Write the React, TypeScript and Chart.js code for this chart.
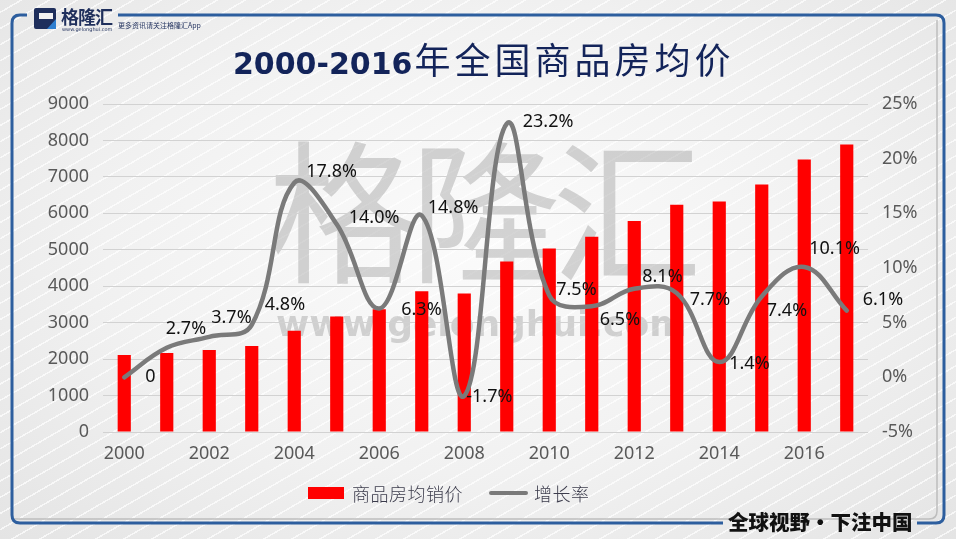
import React, { useEffect, useRef } from "react";
import { Chart, registerables } from "chart.js";

Chart.register(...registerables);

// ---- data ----
const years = [
  "2000", "2001", "2002", "2003", "2004", "2005", "2006", "2007", "2008",
  "2009", "2010", "2011", "2012", "2013", "2014", "2015", "2016", "2017",
];
const avgPrice = [
  2112, 2170, 2250, 2359, 2778, 3168, 3367, 3864, 3800,
  4681, 5032, 5357, 5791, 6237, 6324, 6793, 7476, 7892,
];
const growthRate = [
  0, 2.7, 3.7, 4.8, 17.8, 14.0, 6.3, 14.8, -1.7,
  23.2, 7.5, 6.5, 8.1, 7.7, 1.4, 7.4, 10.1, 6.1,
];
const growthLabels = growthRate.map((v) => (v === 0 ? "0" : v.toFixed(1) + "%"));
// label placement relative to each point (left edge dx, center dy)
const labelDx = [21, -1, 2, 13, 12, 12, 22, 6, 2, 16, 7, 8, 8, 13, 10, 5, 5, 16];
const labelDy = [0, -19, -19, -20, -11, -6, 1, -8, 1, -2, -5, 14, -12, 7, 2, 14, -18, -11];

const leftMin = 0;
const leftMax = 9000;
const leftStep = 1000;
const rightMin = -5;
const rightMax = 25;
const rightStep = 5;

const seriesNames = ["商品房均销价", "增长率"];
const titleNum = "2000-2016";
const titleText = "年全国商品房均价";

const TICK_FONT = { family: '"Noto Sans", "Open Sans", sans-serif', size: 18 };
const TICK_COLOR = "#595959";

export default function App() {
  const canvasRef = useRef<HTMLCanvasElement | null>(null);

  useEffect(() => {
    const canvas = canvasRef.current;
    if (!canvas) return;

    const labelPlugin = {
      id: "growthLabels",
      afterDatasetsDraw(chart: any) {
        const meta = chart.getDatasetMeta(1);
        const ctx = chart.ctx;
        ctx.save();
        ctx.font = '18px "Noto Sans", "Open Sans", sans-serif';
        ctx.fillStyle = "#111111";
        ctx.textAlign = "left";
        ctx.textBaseline = "middle";
        meta.data.forEach((pt: any, i: number) => {
          ctx.fillText(growthLabels[i], pt.x + labelDx[i], pt.y + labelDy[i]);
        });
        ctx.restore();
      },
    };

    const chart = new Chart(canvas, {
      type: "bar",
      data: {
        labels: years,
        datasets: [
          {
            type: "bar",
            label: seriesNames[0],
            data: avgPrice,
            backgroundColor: "#ff0000",
            yAxisID: "y",
            barPercentage: 0.31,
            categoryPercentage: 1,
            order: 2,
          },
          {
            type: "line",
            label: seriesNames[1],
            data: growthRate,
            borderColor: "#7a7a7a",
            borderWidth: 4.5,
            pointRadius: 0,
            tension: 0.4,
            yAxisID: "y1",
            borderCapStyle: "round",
            order: 1,
          } as any,
        ],
      },
      options: {
        responsive: false,
        animation: false,
        layout: { padding: { top: 104, bottom: 0, left: 0, right: 0 } },
        plugins: {
          legend: { display: false },
          tooltip: { enabled: false },
          title: { display: false },
        },
        scales: {
          x: {
            grid: { display: false, drawTicks: false },
            border: { display: false },
            ticks: {
              autoSkip: false,
              maxRotation: 0,
              padding: 11,
              color: TICK_COLOR,
              font: TICK_FONT,
              callback: (_v: any, i: number) => (i % 2 === 0 ? years[i] : ""),
            },
            afterFit: (s: any) => {
              s.height = 107;
            },
          },
          y: {
            position: "left",
            min: leftMin,
            max: leftMax,
            ticks: {
              stepSize: leftStep,
              padding: 14,
              color: TICK_COLOR,
              font: TICK_FONT,
              callback: (v: any) => String(v),
            },
            grid: { color: "#d2d2d2", lineWidth: 1, drawTicks: false },
            border: { display: false },
            afterFit: (s: any) => {
              s.width = 103;
            },
          },
          y1: {
            position: "right",
            min: rightMin,
            max: rightMax,
            ticks: {
              stepSize: rightStep,
              padding: 14,
              color: TICK_COLOR,
              font: TICK_FONT,
              callback: (v: any) => v + "%",
            },
            grid: { display: false, drawTicks: false },
            border: { display: false },
            afterFit: (s: any) => {
              s.width = 88;
            },
          },
        },
      } as any,
      plugins: [labelPlugin],
    });

    return () => chart.destroy();
  }, []);

  const cjk = '"Noto Sans CJK SC", "Noto Sans", sans-serif';

  return (
    <div
      style={{
        position: "fixed",
        left: 0,
        top: 0,
        width: 956,
        height: 539,
        overflow: "hidden",
        background:
          "radial-gradient(ellipse at 50% 45%, #fbfbfb 0%, #f1f1f1 55%, #e4e4e4 100%)",
      }}
    >
      {/* diagonal stripes */}
      <div
        style={{
          position: "absolute",
          inset: 0,
          background:
            "repeating-linear-gradient(150deg, rgba(255,255,255,0) 0px, rgba(255,255,255,0) 10px, rgba(255,255,255,0.7) 10px, rgba(255,255,255,0.7) 11.5px, rgba(255,255,255,0) 11.5px, rgba(255,255,255,0) 14px)",
        }}
      />
      {/* watermark */}
      <div
        style={{
          position: "absolute",
          left: 268,
          top: 118,
          fontFamily: cjk,
          fontWeight: 400,
          fontSize: 150,
          lineHeight: "170px",
          letterSpacing: -8,
          color: "rgba(120,120,120,0.3)",
          whiteSpace: "nowrap",
          transform: "scaleY(1.02)",
          transformOrigin: "top left",
        }}
      >
        格隆汇
      </div>
      <div
        style={{
          position: "absolute",
          left: 276,
          top: 302,
          fontFamily: '"DejaVu Sans", sans-serif',
          fontWeight: 700,
          fontSize: 36,
          lineHeight: "44px",
          color: "rgba(120,120,120,0.3)",
          whiteSpace: "nowrap",
        }}
      >
        www.gelonghui.com
      </div>

      <canvas
        ref={canvasRef}
        width={956}
        height={539}
        style={{ position: "absolute", left: 0, top: 0, width: 956, height: 539 }}
      />

      {/* frame */}
      <svg
        width={956}
        height={539}
        style={{ position: "absolute", left: 0, top: 0, pointerEvents: "none" }}
      >
        <path
          d="M 12 519 H 929 Q 937 519 937 511 V 20"
          fill="none"
          stroke="#bdbdbd"
          strokeWidth={1.5}
        />
        <path
          d="M 27 15 H 20 Q 12 15 12 23 V 515 Q 12 523 20 523 H 723 M 917 523 H 936 Q 944 523 944 515 V 23 Q 944 15 936 15 H 118"
          fill="none"
          stroke="#2d5e9e"
          strokeWidth={3}
        />
      </svg>

      {/* logo */}
      <div
        style={{
          position: "absolute",
          left: 34,
          top: 8,
          width: 22,
          height: 21,
          background: "#1f2f5c",
          borderRadius: 2,
        }}
      >
        <div
          style={{
            position: "absolute",
            left: 5,
            top: 5,
            width: 14,
            height: 6,
            background: "#f2f2f2",
          }}
        />
        <div
          style={{
            position: "absolute",
            right: 0,
            bottom: 0,
            width: 0,
            height: 0,
            borderLeft: "9px solid transparent",
            borderBottom: "10px solid #2f7fd0",
          }}
        />
      </div>
      <div
        style={{
          position: "absolute",
          left: 61,
          top: 4,
          fontFamily: cjk,
          fontWeight: 700,
          fontSize: 18,
          lineHeight: "24px",
          letterSpacing: -1,
          color: "#1f2f5c",
          whiteSpace: "nowrap",
        }}
      >
        格隆汇
      </div>
      <div
        style={{
          position: "absolute",
          left: 62,
          top: 26,
          fontFamily: '"DejaVu Sans", sans-serif',
          fontSize: 5,
          lineHeight: "6px",
          color: "#1f2f5c",
          whiteSpace: "nowrap",
        }}
      >
        www.gelonghui.com
      </div>
      <div
        style={{
          position: "absolute",
          left: 118,
          top: 20,
          fontFamily: cjk,
          fontSize: 7,
          lineHeight: "10px",
          color: "#1f2f5c",
          whiteSpace: "nowrap",
        }}
      >
        更多资讯请关注格隆汇App
      </div>

      {/* title */}
      <div
        style={{
          position: "absolute",
          left: 233,
          top: 35,
          height: 46,
          lineHeight: "46px",
          whiteSpace: "nowrap",
          color: "#13245a",
        }}
      >
        <span
          style={{
            fontFamily: '"DejaVu Sans", sans-serif',
            fontWeight: 700,
            fontSize: 30,
          }}
        >
          {titleNum}
        </span>
        <span
          style={{
            fontFamily: cjk,
            fontWeight: 400,
            fontSize: 36,
            letterSpacing: 4,
            marginLeft: 2,
          }}
        >
          {titleText}
        </span>
      </div>

      {/* legend */}
      <div
        style={{
          position: "absolute",
          left: 308,
          top: 487,
          width: 36,
          height: 12,
          background: "#ff0000",
        }}
      />
      <div
        style={{
          position: "absolute",
          left: 352,
          top: 481,
          fontFamily: cjk,
          fontWeight: 300,
          fontSize: 18,
          lineHeight: "24px",
          letterSpacing: 0.5,
          color: "#3c3c4c",
          whiteSpace: "nowrap",
        }}
      >
        {seriesNames[0]}
      </div>
      <div
        style={{
          position: "absolute",
          left: 489,
          top: 491,
          width: 39,
          height: 4,
          background: "#7a7a7a",
          borderRadius: 2,
        }}
      />
      <div
        style={{
          position: "absolute",
          left: 534,
          top: 481,
          fontFamily: cjk,
          fontWeight: 300,
          fontSize: 18,
          lineHeight: "24px",
          letterSpacing: 0.5,
          color: "#3c3c4c",
          whiteSpace: "nowrap",
        }}
      >
        {seriesNames[1]}
      </div>

      {/* bottom slogan */}
      <div
        style={{
          position: "absolute",
          left: 728,
          top: 507,
          fontFamily: cjk,
          fontWeight: 900,
          fontSize: 20.5,
          lineHeight: "28px",
          color: "#111111",
          whiteSpace: "nowrap",
        }}
      >
        全球视野・下注中国
      </div>
    </div>
  );
}
